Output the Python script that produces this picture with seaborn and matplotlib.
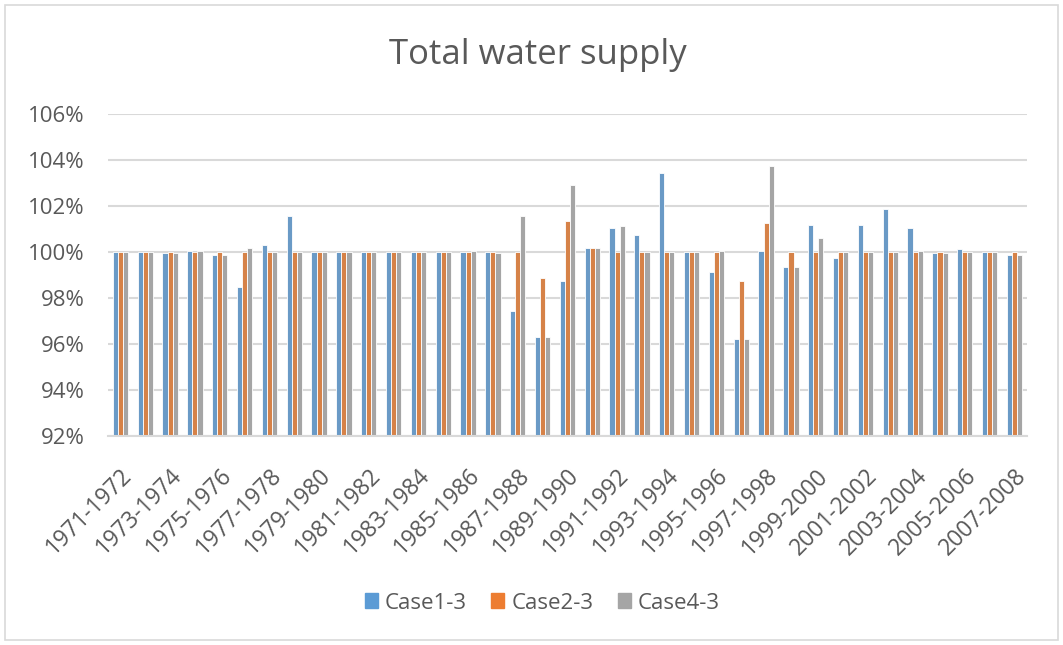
import matplotlib
matplotlib.use("Agg")
import matplotlib.pyplot as plt
import matplotlib.patches as mpatches
from matplotlib.ticker import FuncFormatter
import seaborn as sns
import pandas as pd

years = list(range(1971, 2008))
periods = [f"{y}-{y + 1}" for y in years]

case1_3 = [100, 100, 99.94, 100.06, 99.88, 98.5, 100.31, 101.56, 100, 100,
           100, 100, 100, 100, 100, 100, 97.45, 96.32, 98.76, 100.19,
           101.07, 100.76, 103.43, 100, 99.14, 96.2, 100.06, 99.37, 101.18, 99.75,
           101.18, 101.87, 101.07, 99.94, 100.12, 100, 99.88]
case2_3 = [100, 100, 100, 100, 100, 100, 100, 100, 100, 100,
           100, 100, 100, 100, 100, 100, 100, 98.88, 101.37, 100.19,
           100, 100, 100, 100, 100, 98.76, 101.26, 100, 100, 100,
           100, 100, 100, 100, 100, 100, 100]
case4_3 = [100, 100, 99.94, 100.06, 99.88, 100.19, 100, 100, 100, 100,
           100, 100, 100, 100, 100.06, 99.94, 101.56, 96.32, 102.93, 100.19,
           101.12, 100, 100, 100, 100.06, 96.2, 103.74, 99.37, 100.63, 100,
           100, 100, 100.06, 99.94, 100, 100, 99.88]

cases = ["Case1-3", "Case2-3", "Case4-3"]
colors = ["#5B9BD5", "#ED7D31", "#A5A5A5"]

df = pd.concat([
    pd.DataFrame({"period": periods, "value": vals, "case": name})
    for name, vals in zip(cases, [case1_3, case2_3, case4_3])
])

sns.set_style("white")
plt.rcParams["font.family"] = ["Open Sans", "DejaVu Sans"]
text_color = "#595959"
grid_color = "#D9D9D9"

fig = plt.figure(figsize=(10.63, 6.45), dpi=100)
ax = fig.add_axes([0.1016, 0.324, 0.8644, 0.499])

sns.barplot(data=df, x="period", y="value", hue="case", palette=colors,
            width=0.62, ax=ax, edgecolor="white", linewidth=0.6)

ax.set_ylim(92, 106)
ax.set_yticks([92, 94, 96, 98, 100, 102, 104, 106])
ax.yaxis.set_major_formatter(FuncFormatter(lambda v, p: f"{v:.0f}%"))
ax.set_xlim(-0.5, len(periods) - 0.5)
ax.set_xticks(range(0, len(periods), 2))
ax.set_xticklabels(periods[::2], rotation=45, ha="right", rotation_mode="anchor")
ax.tick_params(axis="y", length=0, labelsize=16, colors=text_color, pad=17)
ax.tick_params(axis="x", length=0, labelsize=16.5, colors=text_color, pad=20)
ax.grid(axis="y", color=grid_color, linewidth=1.5)
ax.set_axisbelow(True)
for s in ["top", "right", "left"]:
    ax.spines[s].set_visible(False)
ax.spines["bottom"].set_color(grid_color)
ax.spines["bottom"].set_linewidth(1.5)
ax.set_xlabel("")
ax.set_ylabel("")

fig.text(0.506, 0.914, "Total water supply", ha="center", va="center",
         fontsize=25, color=text_color)

ax.legend_.remove()
handles = [mpatches.Patch(color=c, label=n) for c, n in zip(colors, cases)]
fig.legend(handles=handles, loc="center", bbox_to_anchor=(0.51, 0.065), ncol=3,
           frameon=False, fontsize=16, handlelength=0.6, handleheight=0.65,
           handletextpad=0.3, columnspacing=1.1, labelcolor=text_color)

border = mpatches.Rectangle((0.005, 0.008), 0.99, 0.984, transform=fig.transFigure,
                            fill=False, edgecolor=grid_color, linewidth=1.2)
fig.patches.append(border)

fig.savefig("out.png", dpi=100, facecolor="white")
